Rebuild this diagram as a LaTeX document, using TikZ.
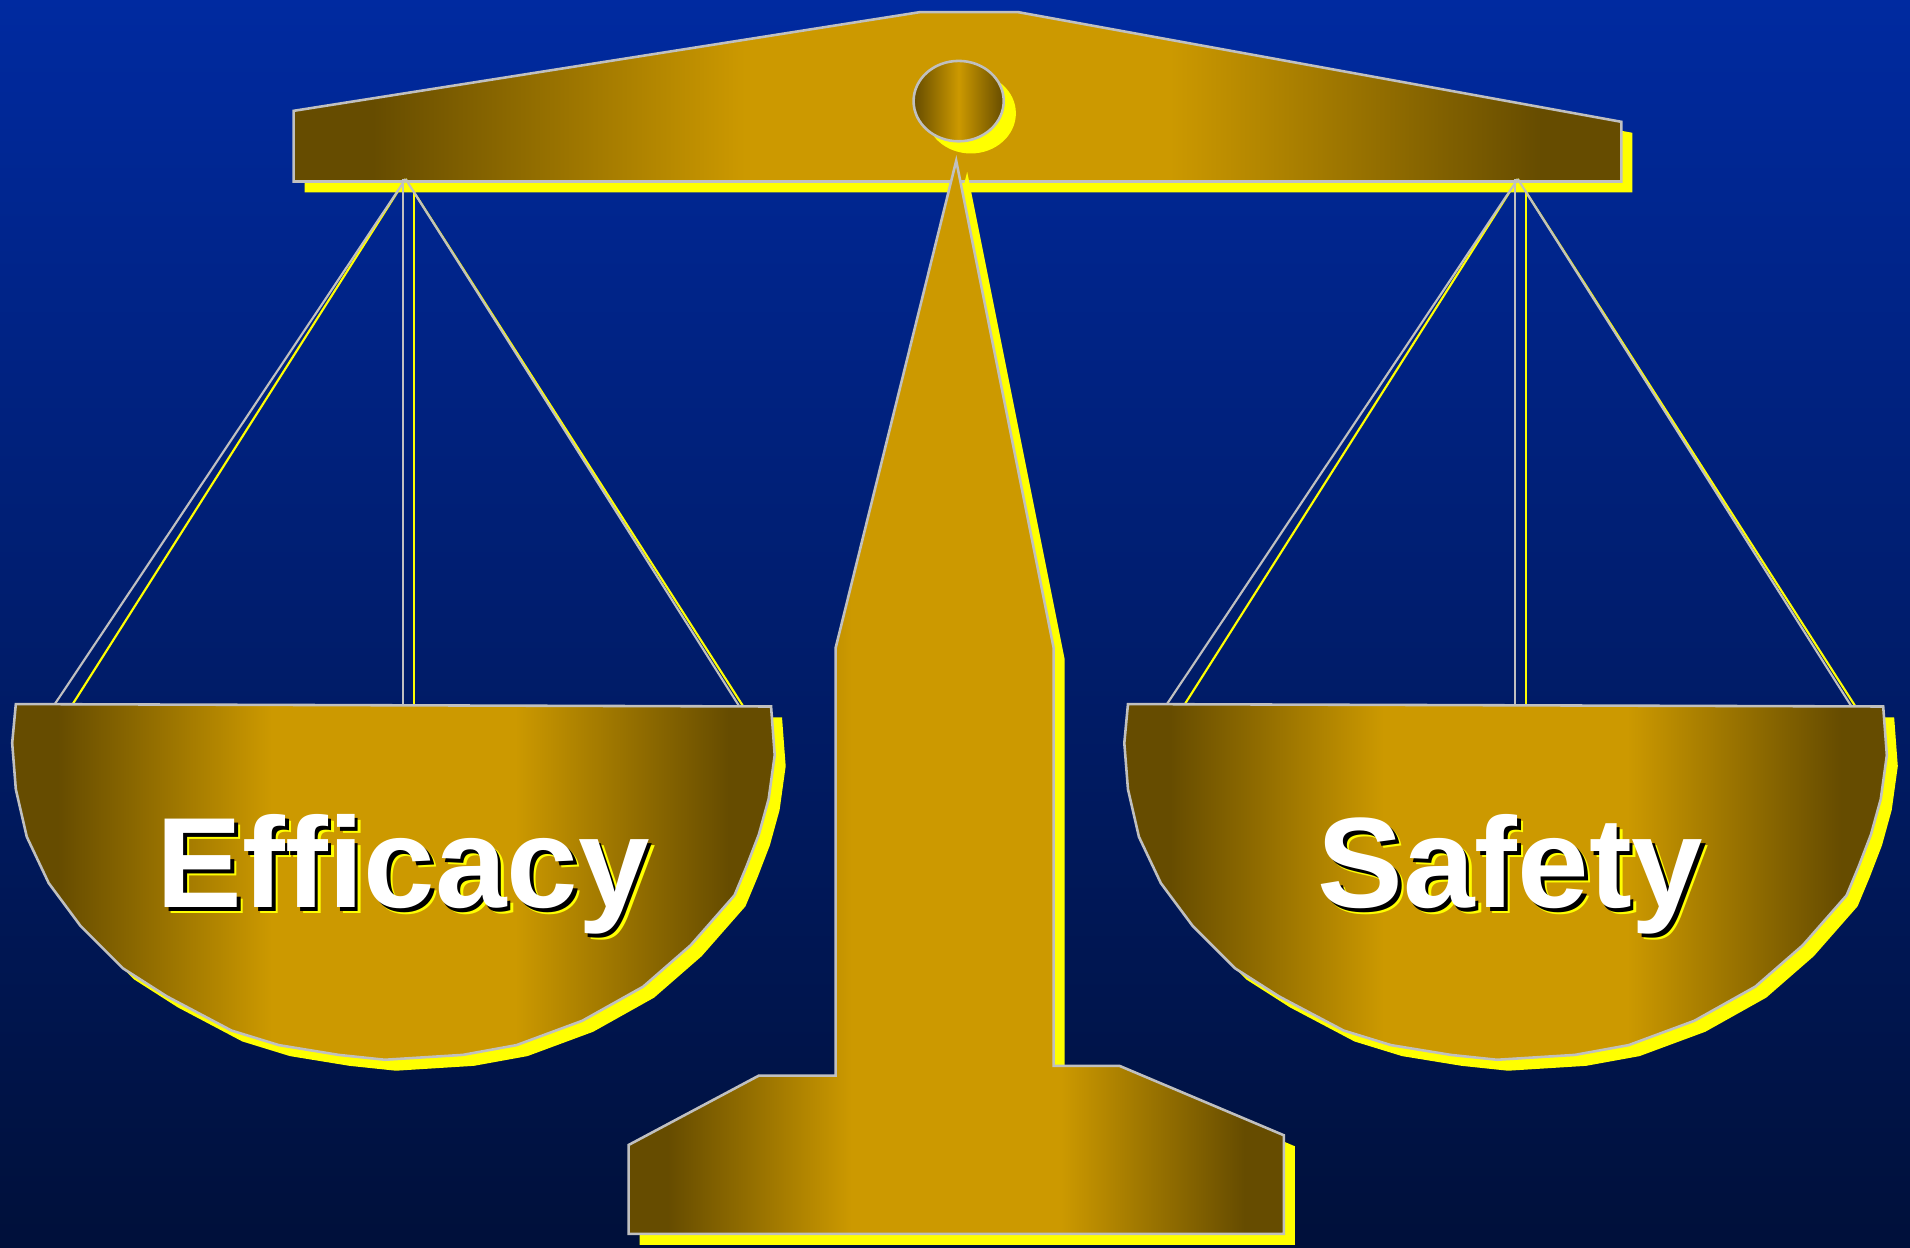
\documentclass[tikz,border=0pt]{standalone}
\usepackage{fontspec}
\setmainfont{Liberation Sans}
\definecolor{gold}{RGB}{204,153,0}
\definecolor{golddark}{RGB}{102,76,0}
\definecolor{shine}{RGB}{255,255,0}
\definecolor{silver}{RGB}{192,192,192}
\definecolor{skytop}{RGB}{0,42,160}
\definecolor{skybot}{RGB}{0,16,58}

% brass look: dark rims, broad bright middle
\pgfdeclarehorizontalshading{brass}{100bp}{color(0bp)=(golddark); color(25bp)=(golddark);
  color(28bp)=(golddark); color(42bp)=(gold); color(58bp)=(gold); color(72bp)=(golddark);
  color(75bp)=(golddark); color(100bp)=(golddark)}

% white lettering with dark and yellow drop shadows
\newcommand{\embossed}[1]{%
  \makebox[0pt][l]{\hspace{0.05cm}\raisebox{-0.05cm}{\color{shine}#1}}%
  \makebox[0pt][l]{\hspace{0.03cm}\raisebox{-0.03cm}{\color{black}#1}}%
  {\color{white}#1}}

\begin{document}
\begin{tikzpicture}[x=0.01cm, y=-0.01cm,
    metal/.style={shading=brass, draw=silver, line width=0.6pt},
    knob/.style={left color=golddark, right color=golddark, middle color=gold,
                 draw=silver, line width=0.6pt},
    glow/.style={fill=shine, draw=none},
    cord/.style={silver, line width=0.5pt},
    cordglow/.style={shine, line width=0.5pt},
    word/.style={font=\bfseries\fontsize{30}{36}\selectfont, anchor=base, inner sep=0pt},
]
% backdrop
\shade[top color=skytop, bottom color=skybot] (0,0) rectangle (1568,1024);
\useasboundingbox (0,0) rectangle (1568,1024);

% beam with pivot
\fill[glow, shift={(9,9)}] (241,91) -- (755,10) -- (836,10) -- (1331,100) -- (1331,149) -- (241,149) -- cycle;
\shadedraw[metal] (241,91) -- (755,10) -- (836,10) -- (1331,100) -- (1331,149) -- (241,149) -- cycle;
\fill[glow] (797,93) ellipse [x radius=37, y radius=33];
\shadedraw[knob] (787,83) ellipse [x radius=37, y radius=33];

% hanging cords
\coordinate (hookL) at (333,147);
\coordinate (hookR) at (1246,147);
\foreach \hook/\dx in {hookL/0, hookR/913} {
  \begin{scope}[shift={(9,9)}]
    \draw[cordglow] (\hook) -- (45+\dx,578);
    \draw[cordglow] (331+\dx,147) -- (331+\dx,578);
    \draw[cordglow] (\hook) -- (607+\dx,580);
  \end{scope}
  \draw[cord] (\hook) -- (45+\dx,578);
  \draw[cord] (331+\dx,147) -- (331+\dx,578);
  \draw[cord] (\hook) -- (607+\dx,580);
}

% pans
\foreach \dx in {0,913} {
  \begin{scope}[xshift=\dx*0.01cm]
    \fill[glow, shift={(9,9)}] (13,578) -- (633,580) -- (636,620) -- (631,656) -- (623,685)
      -- (613,711) -- (603,735) -- (567,776) -- (528,810) -- (478,838) -- (424,858)
      -- (380,866) -- (316,870) -- (278,866) -- (229,858) -- (190,846) -- (137,818)
      -- (101,795) -- (66,760) -- (40,725) -- (22,687) -- (13,648) -- (10,610) -- cycle;
    \shadedraw[metal] (13,578) -- (633,580) -- (636,620) -- (631,656) -- (623,685)
      -- (613,711) -- (603,735) -- (567,776) -- (528,810) -- (478,838) -- (424,858)
      -- (380,866) -- (316,870) -- (278,866) -- (229,858) -- (190,846) -- (137,818)
      -- (101,795) -- (66,760) -- (40,725) -- (22,687) -- (13,648) -- (10,610) -- cycle;
  \end{scope}
}

% post and foot
\fill[glow, shift={(9,9)}] (785,132) -- (865,532) -- (865,875) -- (919,875) -- (1054,932)
  -- (1054,1013) -- (516,1013) -- (516,940) -- (623,883) -- (686,883) -- (686,532) -- cycle;
\shadedraw[metal] (785,132) -- (865,532) -- (865,875) -- (919,875) -- (1054,932)
  -- (1054,1013) -- (516,1013) -- (516,940) -- (623,883) -- (686,883) -- (686,532) -- cycle;

% labels
\node[word] (eff) at (331,745) {\embossed{Efficacy}};
\node[word] (saf) at (1240,745) {\embossed{Safety}};
\end{tikzpicture}
\end{document}
